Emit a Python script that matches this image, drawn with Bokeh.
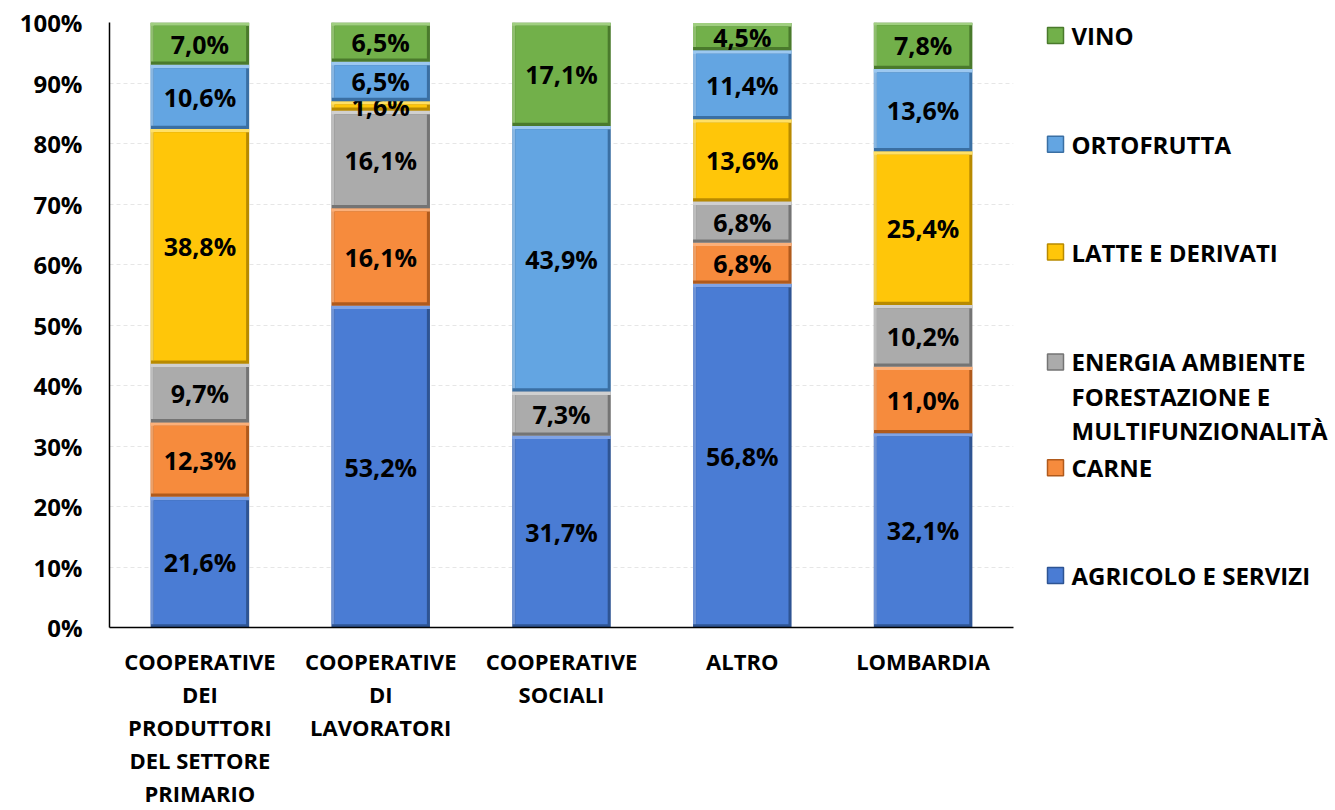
from bokeh.plotting import figure
from bokeh.models import ColumnDataSource, FactorRange, Range1d, FixedTicker
from bokeh.layouts import row
from bokeh.transform import dodge
from bokeh.embed import file_html
from bokeh.resources import INLINE
from bokeh.core.properties import value

categories = ["COOPERATIVE\nDEI\nPRODUTTORI\nDEL SETTORE\nPRIMARIO",
              "COOPERATIVE\nDI\nLAVORATORI",
              "COOPERATIVE\nSOCIALI",
              "ALTRO",
              "LOMBARDIA"]
series = ["AGRICOLO E SERVIZI", "CARNE",
          "ENERGIA AMBIENTE\nFORESTAZIONE E\nMULTIFUNZIONALITÀ",
          "LATTE E DERIVATI", "ORTOFRUTTA", "VINO"]
agricolo = [21.6, 53.2, 31.7, 56.8, 32.1]
carne = [12.3, 16.1, 0.0, 6.8, 11.0]
energia = [9.7, 16.1, 7.3, 6.8, 10.2]
latte = [38.8, 1.6, 0.0, 13.6, 25.4]
ortofrutta = [10.6, 6.5, 43.9, 11.4, 13.6]
vino = [7.0, 6.5, 17.1, 4.5, 7.8]
y_ticks = [0, 10, 20, 30, 40, 50, 60, 70, 80, 90, 100]

values = [agricolo, carne, energia, latte, ortofrutta, vino]
colors = ["#4A7CD4", "#F68B3D", "#ABABAB", "#FFC609", "#63A5E2", "#72B04A"]
darks = ["#2E5493", "#B05A1C", "#747474", "#B88A00", "#3A6FA3", "#4A7A2C"]
lights = ["#7FA3E6", "#FBB07A", "#D0D0D0", "#FFE066", "#9CC8F0", "#A0CF80"]

FONT = "Open Sans"
BAR_W = 0.545
INSET_X = 0.017
INSET_Y = 0.55

W1, W2, H = 1030, 305, 810
p = figure(x_range=FactorRange(*categories), y_range=Range1d(0, 100),
           width=W1, height=H, output_backend="svg", toolbar_location=None,
           min_border_left=109, min_border_right=W1 - 1013, min_border_top=22,
           min_border_bottom=H - 628)
p.outline_line_color = None
p.background_fill_color = "white"
p.border_fill_color = "white"

bottom = [0.0] * len(categories)
for vals, col, dk, lt in zip(values, colors, darks, lights):
    top = [b + v for b, v in zip(bottom, vals)]
    src = ColumnDataSource(dict(
        x=categories, bottom=bottom, top=top,
        ibottom=[b + INSET_Y if v > 0 else b for b, v in zip(bottom, vals)],
        itop=[t - INSET_Y if v > 0 else t for t, v in zip(top, vals)],
        mid=[(b + t) / 2 for b, t in zip(bottom, top)],
        lab=[("%.1f%%" % v).replace(".", ",") if v > 0 else "" for v in vals]))
    # bevel: dark rim (right/bottom), light rim (top/left), main face
    p.vbar(x="x", bottom="bottom", top="top", width=BAR_W, source=src,
           fill_color=dk, line_color=None)
    p.vbar(x=dodge("x", -(BAR_W - INSET_X) / 2, range=p.x_range),
           bottom="ibottom", top="top", width=INSET_X, source=src,
           fill_color=lt, fill_alpha=0.8, line_color=None)
    p.vbar(x="x", bottom="itop", top="top", width=BAR_W, source=src,
           fill_color=lt, line_color=None)
    p.vbar(x="x", bottom="ibottom", top="itop", width=BAR_W - 2 * INSET_X,
           source=src, fill_color=col, line_color=None)
    p.text(x="x", y="mid", text="lab", source=src, text_align="center",
           text_baseline="middle", text_font=value(FONT),
           text_font_style="bold", text_font_size="25px", text_color="black")
    bottom = top

p.xgrid.grid_line_color = None
p.ygrid.grid_line_color = "#e6e6e6"
p.ygrid.grid_line_dash = "4 3"
p.yaxis.ticker = FixedTicker(ticks=y_ticks)
p.yaxis.major_label_overrides = {t: f"{t}%" for t in y_ticks}
for ax in (p.xaxis, p.yaxis):
    ax.axis_line_color = "black"
    ax.axis_line_width = 1.5
    ax.major_tick_line_color = None
    ax.minor_tick_line_color = None
    ax.major_tick_out = 0
    ax.major_tick_in = 0
    ax.major_label_text_font = FONT
    ax.major_label_text_font_style = "bold"
    ax.major_label_text_color = "black"
p.yaxis.major_label_text_font_size = "24px"
p.xaxis.major_label_text_font_size = "22px"
p.xaxis.major_label_text_line_height = 1.1
p.yaxis.major_label_standoff = 27
p.xaxis.major_label_standoff = 18

# legend panel: data coordinates equal page pixels inside its frame
lg = figure(x_range=Range1d(W1, W1 + W2), y_range=Range1d(628, 22),
            width=W2, height=H, output_backend="svg", toolbar_location=None,
            min_border_left=0, min_border_right=0, min_border_top=22,
            min_border_bottom=H - 628)
lg.axis.visible = False
lg.grid.visible = False
lg.outline_line_color = None
leg_order = [5, 4, 3, 2, 1, 0]
leg_y = [35, 144, 252, 362, 468, 576]
for idx, yy in zip(leg_order, leg_y):
    lg.scatter([1055], [yy], marker="square", size=16, fill_color=colors[idx],
               line_color=darks[idx], line_width=1.5)
    for k, line in enumerate(series[idx].split("\n")):
        lg.text([1071], [yy + k * 34.5], text=[line], text_align="left",
                text_baseline="middle", text_font=value(FONT),
                text_font_style="bold", text_font_size="24px",
                text_color="black")

layout = row(p, lg)
open("out.html", "w").write(file_html(layout, INLINE))
